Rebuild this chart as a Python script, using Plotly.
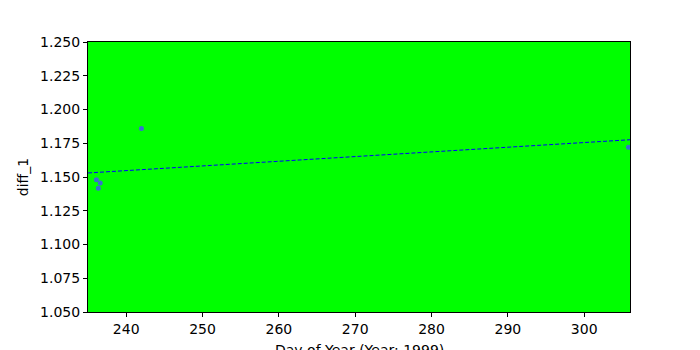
import plotly.graph_objects as go

# Data
day_of_year = [236.1, 236.35, 236.6, 242.0, 305.8]
diff_1 = [1.148, 1.1416, 1.1456, 1.186, 1.172]
trend_x = [235.0, 306.0]
trend_y = [1.153, 1.1776]

x_ticks = [240, 250, 260, 270, 280, 290, 300]
y_ticks = [1.05, 1.075, 1.10, 1.125, 1.15, 1.175, 1.20, 1.225, 1.25]

fig = go.Figure()
fig.add_trace(go.Scatter(
    x=day_of_year, y=diff_1, mode="markers",
    marker=dict(symbol="circle", size=5, color="#3a6fd0", line=dict(width=0)),
    cliponaxis=True, showlegend=False,
))
fig.add_trace(go.Scatter(
    x=trend_x, y=trend_y, mode="lines",
    line=dict(color="#0000ff", width=1, dash="4px,2px"),
    showlegend=False,
))

axis_common = dict(
    showgrid=False, zeroline=False, showline=True, linecolor="black", linewidth=1,
    mirror=True, ticks="outside", ticklen=4, tickwidth=1, tickcolor="black",
    tickfont=dict(family="DejaVu Sans", size=14, color="black"),
    automargin=False,
)
fig.update_layout(
    width=700, height=350,
    margin=dict(l=88, r=70, t=42, b=38),
    paper_bgcolor="white", plot_bgcolor="#00ff00",
    font=dict(family="DejaVu Sans", size=14, color="black"),
    xaxis=dict(range=[235, 306], tickvals=x_ticks, **axis_common),
    yaxis=dict(range=[1.05, 1.25], tickvals=y_ticks, tickformat=".3f",
               title=dict(text="diff_1", standoff=8,
                          font=dict(family="DejaVu Sans", size=14)),
               **axis_common),
    annotations=[dict(
        text="Day of Year (Year: 1999)", xref="paper", yref="paper",
        x=0.5, y=0, xanchor="center", yanchor="top", yshift=-28,
        showarrow=False, font=dict(family="DejaVu Sans", size=14, color="black"),
    )],
)
fig.write_html("out.html")
